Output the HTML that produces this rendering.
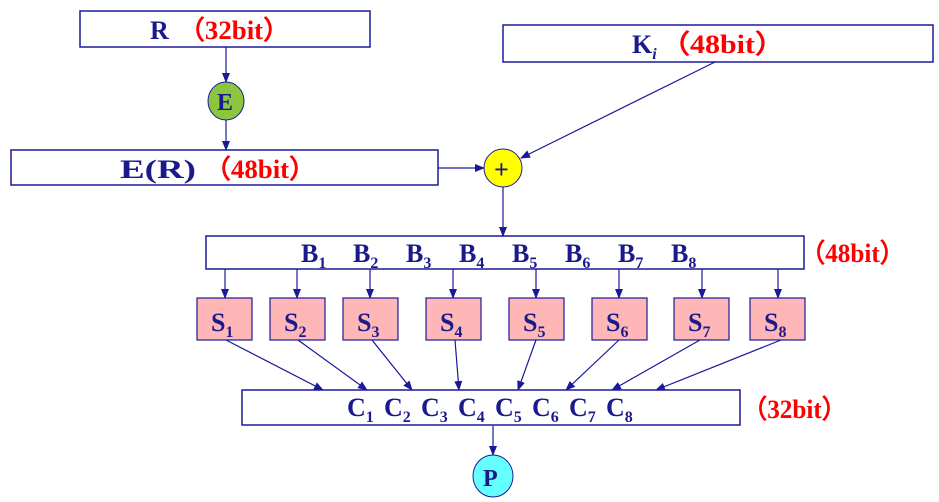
<!DOCTYPE html>
<html><head><style>body{margin:0;background:#fff}svg{display:block}
text{font-family:"Liberation Serif",serif;font-weight:bold}</style></head><body>
<svg width="939" height="502" viewBox="0 0 939 502" xmlns="http://www.w3.org/2000/svg">
<defs><marker id="a" markerWidth="10" markerHeight="10" refX="9" refY="5" orient="auto" markerUnits="userSpaceOnUse"><path d="M0,1 L10,5 L0,9 z" fill="#1a1a99"/></marker></defs>
<g fill="#fff" stroke="#1a1a99" stroke-width="1.5">
<rect x="80" y="11" width="290" height="36"/>
<rect x="503" y="25" width="430" height="37"/>
<rect x="11" y="150" width="427" height="35"/>
<rect x="206" y="236" width="598" height="33"/>
<rect x="242" y="390" width="498" height="35"/>
</g>
<g fill="#ffb6b6" stroke="#1a1a99" stroke-width="1.2">
<rect x="197" y="298" width="55" height="42"/><rect x="270" y="298" width="55" height="42"/>
<rect x="343" y="298" width="55" height="42"/><rect x="426" y="298" width="55" height="42"/>
<rect x="509" y="298" width="55" height="42"/><rect x="592" y="298" width="55" height="42"/>
<rect x="674" y="298" width="55" height="42"/><rect x="750" y="298" width="55" height="42"/>
</g>
<ellipse cx="226" cy="101" rx="18" ry="19" fill="#8cc63f" stroke="#1a1a99"/>
<ellipse cx="503" cy="168" rx="19" ry="19" fill="#ffff00" stroke="#1a1a99"/>
<ellipse cx="493" cy="476" rx="20" ry="21" fill="#66ffff" stroke="#1a1a99"/>
<g stroke="#1a1a99" stroke-width="1.2" marker-end="url(#a)">
<line x1="226" y1="47" x2="226" y2="82"/>
<line x1="226" y1="120" x2="226" y2="150"/>
<line x1="438" y1="168" x2="484" y2="168"/>
<line x1="715" y1="62" x2="521" y2="158"/>
<line x1="503" y1="187" x2="503" y2="236"/>
<line x1="225" y1="269" x2="225" y2="298"/><line x1="297" y1="269" x2="297" y2="298"/>
<line x1="370" y1="269" x2="370" y2="298"/><line x1="453" y1="269" x2="453" y2="298"/>
<line x1="536" y1="269" x2="536" y2="298"/><line x1="619" y1="269" x2="619" y2="298"/>
<line x1="702" y1="269" x2="702" y2="298"/><line x1="778" y1="269" x2="778" y2="298"/>
<line x1="226" y1="340" x2="323" y2="390"/><line x1="298" y1="340" x2="367" y2="390"/>
<line x1="372" y1="340" x2="412" y2="390"/><line x1="455" y1="340" x2="459" y2="390"/>
<line x1="536" y1="340" x2="518" y2="390"/><line x1="619" y1="340" x2="566" y2="390"/>
<line x1="700" y1="340" x2="612" y2="390"/><line x1="781" y1="340" x2="656" y2="390"/>
<line x1="493" y1="426" x2="493" y2="455"/>
</g>
<g font-size="26" fill="#1a1a8c">
<text x="150" y="39">R</text>
<text x="178" y="39" fill="#ff0000" textLength="112" lengthAdjust="spacingAndGlyphs">（32bit）</text>
<text x="632" y="53">K<tspan font-size="16" dy="6" font-style="italic">i</tspan></text>
<text x="660" y="53" fill="#ff0000" textLength="125" lengthAdjust="spacingAndGlyphs">（48bit）</text>
<text x="217" y="110" font-size="24">E</text>
<text x="120" y="178" textLength="76" lengthAdjust="spacingAndGlyphs">E(R)</text>
<text x="204" y="178" fill="#ff0000" textLength="112" lengthAdjust="spacingAndGlyphs">（48bit）</text>
<text x="494" y="178" font-size="26">+</text>
<text x="483" y="486" font-size="24">P</text>
<text x="800" y="262" fill="#ff0000" textLength="105" lengthAdjust="spacingAndGlyphs">（48bit）</text>
<text x="742" y="418" fill="#ff0000" textLength="105" lengthAdjust="spacingAndGlyphs">（32bit）</text>
</g>
<g font-size="26" fill="#1a1a8c">
<text x="301" y="262">B<tspan font-size="16" dy="6">1</tspan></text>
<text x="353" y="262">B<tspan font-size="16" dy="6">2</tspan></text>
<text x="406" y="262">B<tspan font-size="16" dy="6">3</tspan></text>
<text x="459" y="262">B<tspan font-size="16" dy="6">4</tspan></text>
<text x="512" y="262">B<tspan font-size="16" dy="6">5</tspan></text>
<text x="565" y="262">B<tspan font-size="16" dy="6">6</tspan></text>
<text x="618" y="262">B<tspan font-size="16" dy="6">7</tspan></text>
<text x="671" y="262">B<tspan font-size="16" dy="6">8</tspan></text>
<text x="211" y="331">S<tspan font-size="16" dy="6">1</tspan></text>
<text x="284" y="331">S<tspan font-size="16" dy="6">2</tspan></text>
<text x="357" y="331">S<tspan font-size="16" dy="6">3</tspan></text>
<text x="440" y="331">S<tspan font-size="16" dy="6">4</tspan></text>
<text x="523" y="331">S<tspan font-size="16" dy="6">5</tspan></text>
<text x="606" y="331">S<tspan font-size="16" dy="6">6</tspan></text>
<text x="688" y="331">S<tspan font-size="16" dy="6">7</tspan></text>
<text x="764" y="331">S<tspan font-size="16" dy="6">8</tspan></text>
</g>
<g font-size="26" fill="#1a1a8c">
<text x="347" y="416">C<tspan font-size="16" dy="6">1</tspan></text>
<text x="384" y="416">C<tspan font-size="16" dy="6">2</tspan></text>
<text x="421" y="416">C<tspan font-size="16" dy="6">3</tspan></text>
<text x="458" y="416">C<tspan font-size="16" dy="6">4</tspan></text>
<text x="495" y="416">C<tspan font-size="16" dy="6">5</tspan></text>
<text x="532" y="416">C<tspan font-size="16" dy="6">6</tspan></text>
<text x="569" y="416">C<tspan font-size="16" dy="6">7</tspan></text>
<text x="606" y="416">C<tspan font-size="16" dy="6">8</tspan></text>
</g>
</svg>
</body></html>
